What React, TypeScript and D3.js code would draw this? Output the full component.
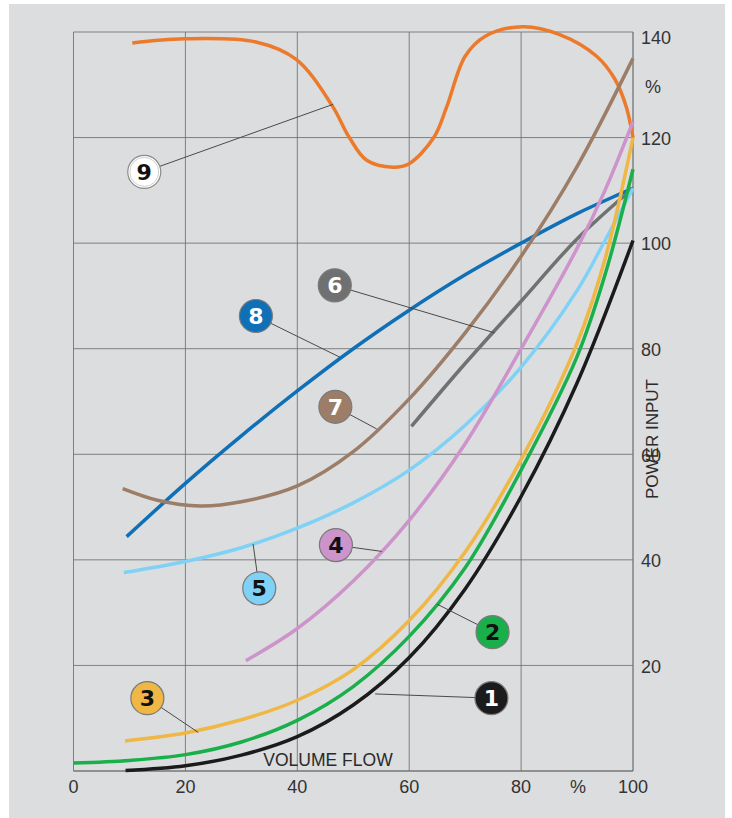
import React from "react";
import * as d3 from "d3";

// ---- data (volume flow %, power input %) ----
const xTicks = [0, 20, 40, 60, 80, 100];
const yTicks = [20, 40, 60, 80, 100, 120, 140];

const curve1: [number, number][] = [[9.3,0.1],[20,1],[30,3],[40,6.5],[50,12.5],[60,21.5],[70,34.5],[80,52],[90,73.5],[100,100.5]];
const curve2: [number, number][] = [[0,1.5],[10,2],[20,3.1],[30,5.5],[40,9.6],[50,16],[60,25.5],[70,38.5],[80,57],[90,78.5],[95,94],[100,114]];
const curve3: [number, number][] = [[9.2,5.7],[20,7.2],[30,9.7],[40,13.4],[50,19.2],[60,28.5],[70,41.5],[80,59],[90,81],[95,97],[100,120]];
const curve4: [number, number][] = [[30.8,20.9],[40,27],[50,36],[60,47.5],[70,62],[80,80],[90,99],[95,110],[100,123]];
const curve5: [number, number][] = [[9,37.6],[20,39.7],[30,42.3],[40,46],[50,50.8],[60,57],[70,65.5],[80,76.5],[90,91],[95,100.5],[100,110.4]];
const curve6: [number, number][] = [[60.4,65.3],[70,77.2],[80,89],[90,100.8],[100,110.4]];
const curve7: [number, number][] = [[8.8,53.5],[15,51.3],[22.6,50.2],[30,51],[40,54],[50,60.5],[60,70.5],[70,83],[80,97.5],[90,114.5],[100,135]];
const curve8: [number, number][] = [[9.5,44.4],[20,54.5],[30,63.5],[40,72],[50,80],[60,87.3],[70,94],[80,100],[90,105.6],[100,110.4]];
const curve9: [number, number][] = [[10.5,137.9],[19.8,138.7],[32.6,138.1],[39.8,134.8],[46.2,126.1],[49.3,120],[52.4,115.7],[57.1,114.4],[59.9,115],[64.4,120],[66.7,125.8],[70,135.4],[73.6,139.2],[80.3,141],[86.9,139.5],[93.5,135.4],[96.8,131],[98.8,125.8],[100,120]];

const seriesColors = ["#1b1b1b","#19b04b","#efb744","#cd93cb","#7fd2f6","#707172","#9c7d67","#0f6fb7","#ec7a2b"];
const seriesData = [curve1, curve2, curve3, curve4, curve5, curve6, curve7, curve8, curve9];

// badges: number, center [v,p], leader end [v,p], fill, text colour
const badgeNums = [1,2,3,4,5,6,7,8,9];
const badgeCenters: [number, number][] = [[74.7,13.8],[74.9,26.3],[13.2,13.8],[46.9,42.8],[33.2,34.6],[46.7,92],[46.8,69],[32.6,86.2],[12.65,113.5]];
const badgeLeaderEnds: [number, number][] = [[53.9,14.6],[65,31.6],[22.3,7.3],[55.1,41.6],[32.1,43],[75.3,83],[54.2,64.8],[47.6,78.4],[46.4,126.3]];
const badgeFills = ["#1b1b1b","#19b04b","#efb744","#cd93cb","#7fd2f6","#6f7072","#9c7d67","#0f6fb7","#ffffff"];
const badgeText = ["#ffffff","#111111","#111111","#111111","#111111","#ffffff","#ffffff","#ffffff","#111111"];

const drawOrder = [8, 7, 6, 5, 4, 3, 2, 1, 0];

export default function App() {
  const W = 732, H = 818;
  const x = d3.scaleLinear().domain([0, 100]).range([73.5, 633]);
  const y = d3.scaleLinear().domain([0, 140]).range([771, 32]);
  const line = d3.line<[number, number]>().x(d => x(d[0])).y(d => y(d[1])).curve(d3.curveCatmullRom.alpha(0.5));
  const font = "'Liberation Sans', Arial, sans-serif";

  return (
    <svg width={W} height={H} style={{ position: "absolute", left: 0, top: 0 }} fontFamily={font}>
      <rect x={0} y={0} width={W} height={H} fill="#ffffff" />
      <rect x={9} y={4} width={716} height={814} fill="#dcdddf" />
      {/* grid */}
      {xTicks.map(t => (
        <line key={"gx" + t} x1={x(t)} x2={x(t)} y1={y(140)} y2={y(0)} stroke="#6f6f6f" strokeWidth={t === 100 ? 1.8 : 1} strokeOpacity={t === 100 ? 0.7 : 0.85} />
      ))}
      {[0, ...yTicks].map(t => (
        <line key={"gy" + t} x1={x(0)} x2={x(100)} y1={y(t)} y2={y(t)} stroke="#6f6f6f" strokeWidth={t === 0 ? 1.8 : 1} strokeOpacity={t === 0 ? 0.7 : 0.85} />
      ))}
      {/* curves */}
      {drawOrder.map(i => (
        <path key={"c" + i} d={line(seriesData[i]) || ""} fill="none" stroke={seriesColors[i]} strokeWidth={3.5} strokeLinecap="butt" />
      ))}
      {/* leaders */}
      {badgeNums.map((n, i) => (
        <line key={"l" + n} x1={x(badgeCenters[i][0])} y1={y(badgeCenters[i][1])} x2={x(badgeLeaderEnds[i][0])} y2={y(badgeLeaderEnds[i][1])} stroke="#4a4a4a" strokeWidth={1} />
      ))}
      {/* badges */}
      {badgeNums.map((n, i) => (
        <g key={"b" + n} transform={`translate(${x(badgeCenters[i][0])},${y(badgeCenters[i][1])})`}>
          <circle r={16.5} fill={badgeFills[i]} stroke={n === 9 ? "#8a8a8a" : "#7a7a7a"} strokeWidth={1.2} />
          {n === 9 && <circle r={14.5} fill="none" stroke="#cfcfcf" strokeWidth={1} />}
          <text textAnchor="middle" dy="0.36em" fontSize={22} fontWeight="bold" fill={badgeText[i]} fontFamily="'DejaVu Sans', sans-serif">{n}</text>
        </g>
      ))}
      {/* y tick labels */}
      {yTicks.map(t => (
        <text key={"ty" + t} x={641} y={y(t) + (t === 140 ? 6 : 1)} dy="0.35em" fontSize={18} fill="#333">{t}</text>
      ))}
      <text x={645} y={87} dy="0.35em" fontSize={18} fill="#333">%</text>
      {/* x tick labels */}
      {xTicks.map(t => (
        <text key={"tx" + t} x={x(t)} y={787} dy="0.35em" textAnchor="middle" fontSize={18} fill="#333">{t}</text>
      ))}
      <text x={578} y={787} dy="0.35em" textAnchor="middle" fontSize={18} fill="#333">%</text>
      <text x={328} y={760} dy="0.35em" textAnchor="middle" fontSize={17.5} fill="#2a2a2a" fontWeight={300}>VOLUME FLOW</text>
      <text transform={`translate(652,439) rotate(-90)`} dy="0.35em" textAnchor="middle" fontSize={17} fill="#2a2a2a">POWER INPUT</text>
    </svg>
  );
}
